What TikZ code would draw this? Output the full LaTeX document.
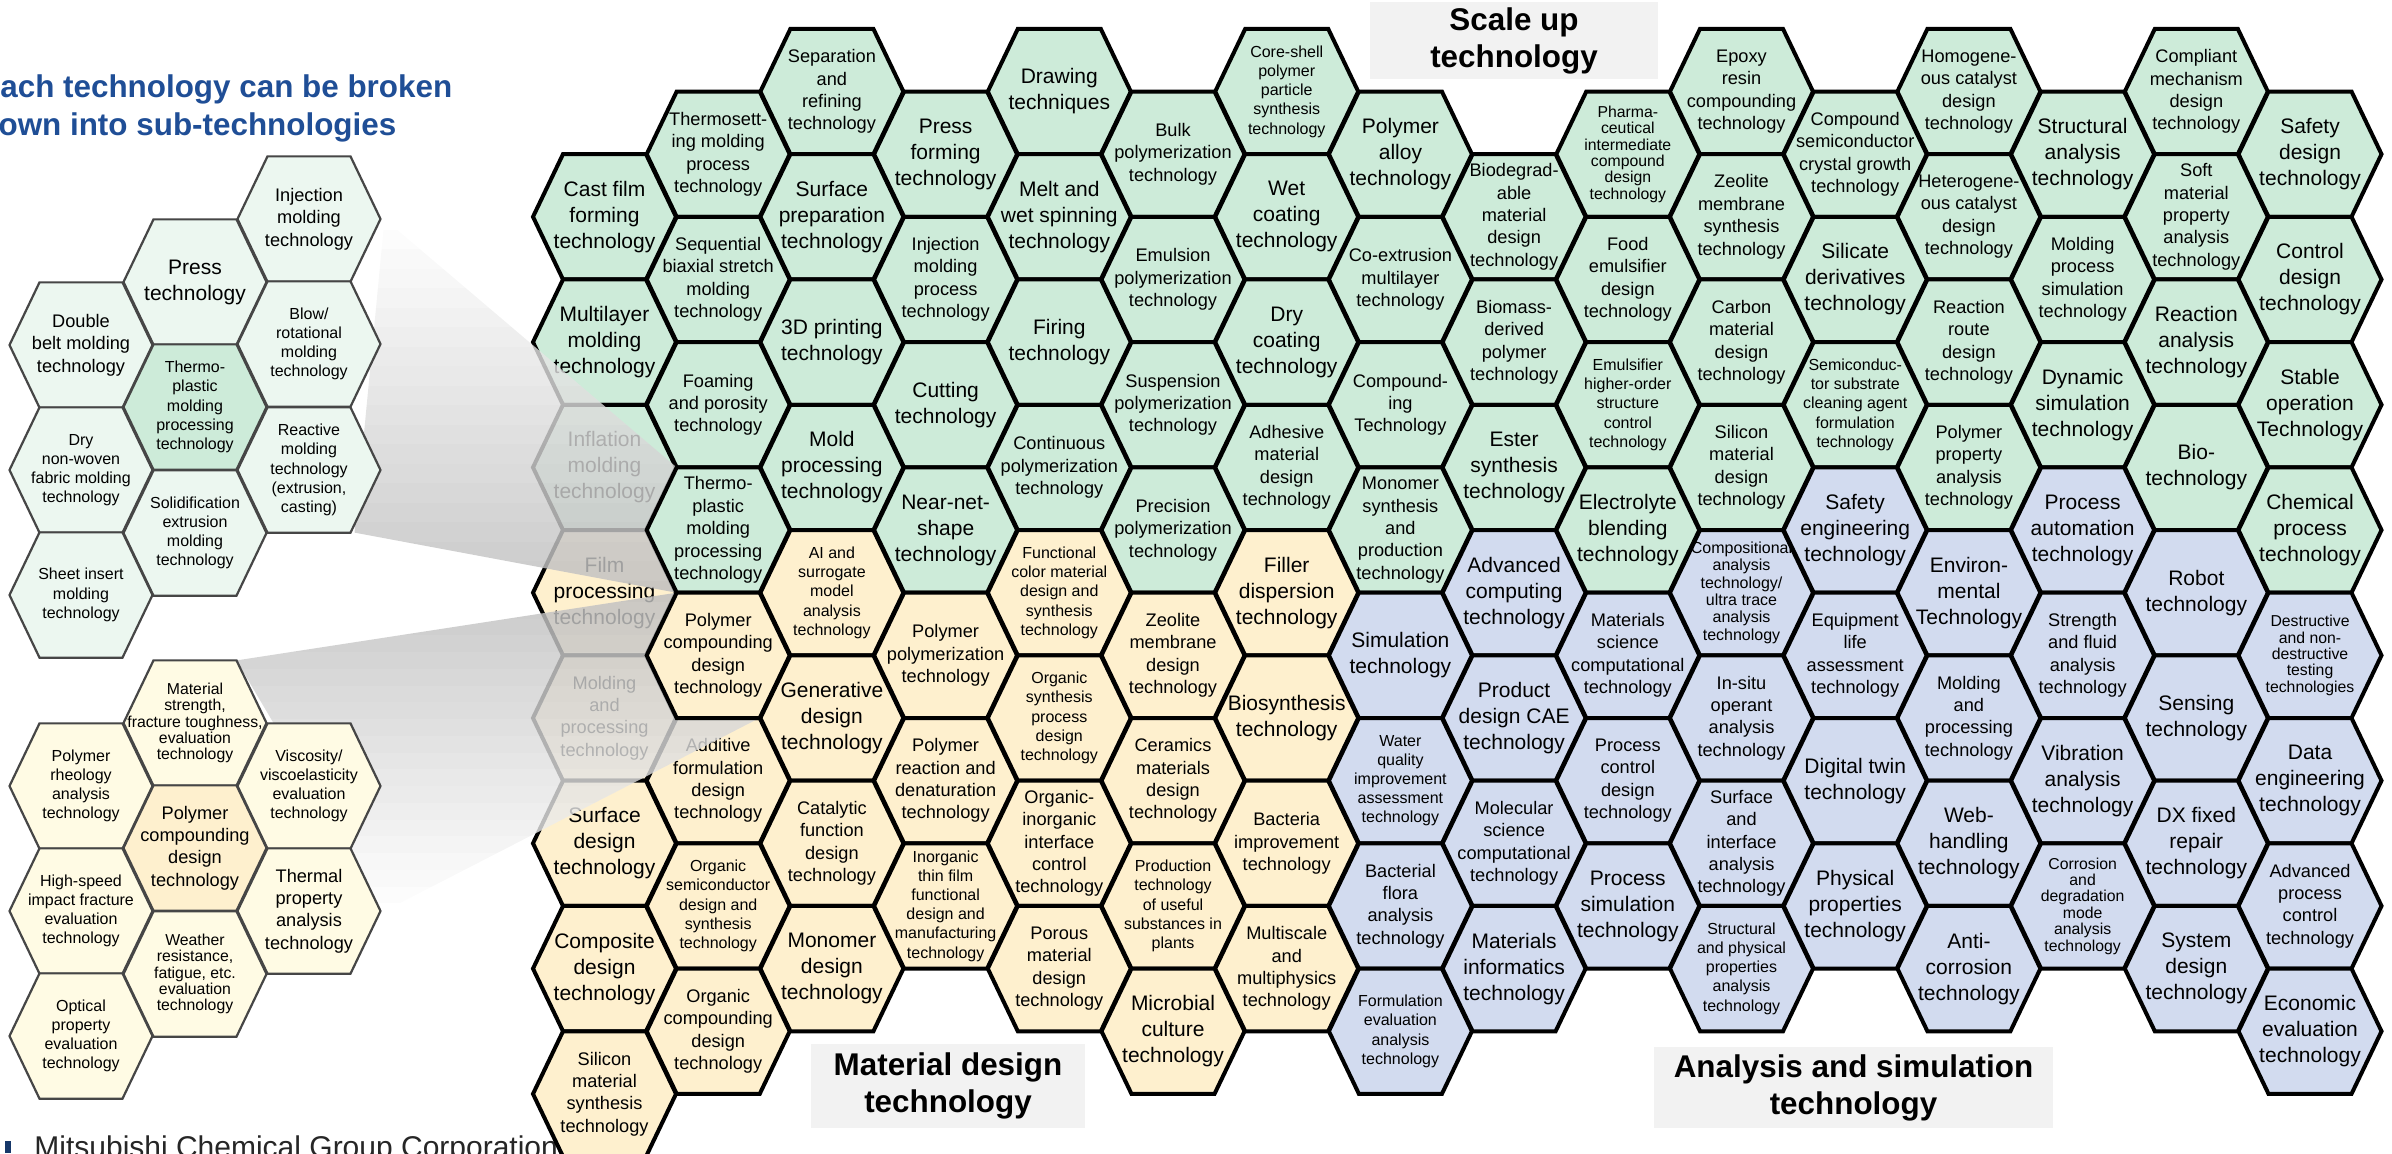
\documentclass[tikz,border=0pt]{standalone}
\usepackage{fontspec}
\setmainfont{Liberation Sans}
\definecolor{hexgreen}{RGB}{205,235,217}
\definecolor{hexyellow}{RGB}{254,240,206}
\definecolor{hexblue}{RGB}{210,219,239}
\definecolor{palegreen}{RGB}{236,247,240}
\definecolor{paleyellow}{RGB}{255,251,228}
\definecolor{panelline}{RGB}{70,70,70}
\definecolor{titleblue}{RGB}{31,78,150}
\definecolor{labelgray}{RGB}{242,242,242}

\pgfdeclarelayer{bottom}
\pgfdeclarelayer{cells}
\pgfsetlayers{bottom,cells,main}

% one cell of the main honeycomb: column, row, fill style, text style, text
% (the outline goes on the cells layer so every label stays on top)
\newcommand\cell[5]{%
  \pgfmathsetmacro\cx{604.5+(#1-1)*113.7}%
  \pgfmathsetmacro\cy{91.5+#2*125.3+62.65*(1-mod(#1,2))}%
  \begin{pgfonlayer}{cells}
  \draw[hexline,#3,shift={(\cx,\cy)}] (-71.5,0) -- (-41.5,-62.65) -- (41.5,-62.65)
     -- (71.5,0) -- (41.5,62.65) -- (-41.5,62.65) -- cycle;
  \end{pgfonlayer}
  \node[#4] (c#1r#2) at (\cx,\cy) {#5};}

% a highlighted cell of the main honeycomb, drawn on the top layer
\newcommand\topcell[5]{%
  \pgfmathsetmacro\cx{604.5+(#1-1)*113.7}%
  \pgfmathsetmacro\cy{91.5+#2*125.3+62.65*(1-mod(#1,2))}%
  \draw[hexline,#3,shift={(\cx,\cy)}] (-71.5,0) -- (-41.5,-62.65) -- (41.5,-62.65)
     -- (71.5,0) -- (41.5,62.65) -- (-41.5,62.65) -- cycle;
  \node[#4] (c#1r#2) at (\cx,\cy) {#5};}

% one cell of the side panels: x, y, cell style, text style, name, text
\newcommand\pcell[6]{%
  \draw[#3,shift={(#1,#2)}] (-71.5,0) -- (-41.5,-62.65) -- (41.5,-62.65)
     -- (71.5,0) -- (41.5,62.65) -- (-41.5,62.65) -- cycle;
  \node[#4] (#5) at (#1,#2) {#6};}

\tikzset{
  hexline/.style={draw=black, line width=2pt, line join=miter},
  G/.style={fill=hexgreen}, Y/.style={fill=hexyellow}, B/.style={fill=hexblue},
  txt/.style={align=center, inner sep=0pt, text=black},
  tL/.style={txt, font=\fontsize{10.5}{13}\selectfont},
  tM/.style={txt, font=\fontsize{9.1}{11.2}\selectfont},
  tS/.style={txt, font=\fontsize{8}{9.6}\selectfont},
  tT/.style={txt, font=\fontsize{7.9}{8.2}\selectfont},
  tU/.style={txt, font=\fontsize{8}{8.7}\selectfont},
  pG/.style={draw=panelline, line width=1.1pt, line join=miter, fill=palegreen},
  pY/.style={draw=panelline, line width=1.1pt, line join=miter, fill=paleyellow},
  pGh/.style={draw=panelline, line width=1.1pt, line join=miter, fill=hexgreen},
  pYh/.style={draw=panelline, line width=1.1pt, line join=miter, fill=hexyellow},
  catbox/.style={fill=labelgray},
  catlabel/.style={align=center, inner sep=0pt, font=\fontsize{15.7}{18.5}\selectfont\bfseries},
  haze/.style={fill=white, fill opacity=0.78},
}

\begin{document}
\begin{tikzpicture}[x=0.5pt,y=-0.5pt]
\clip (0,0) rectangle (2392,1153);
\begin{pgfonlayer}{bottom}
\fill[white] (0,0) rectangle (2392,1153);
\fill[titleblue!70!black] (5,1141) rectangle (11,1153);
\node[anchor=base west, inner sep=0pt, text=black!85, font=\fontsize{15}{18}\selectfont]
  (credit) at (34,1157) {Mitsubishi Chemical Group Corporation};
\end{pgfonlayer}

% ---------- column 1 ----------
\cell{1}{1}{G}{tL}{Cast film\\forming\\technology}
\cell{1}{2}{G}{tL}{Multilayer\\molding\\technology}
\cell{1}{3}{G}{tL}{Inflation\\molding\\technology}
\cell{1}{4}{Y}{tL}{Film\\processing\\technology}
\cell{1}{5}{Y}{tM}{Molding\\and\\processing\\technology}
\cell{1}{6}{Y}{tL}{Surface\\design\\technology}
\cell{1}{7}{Y}{tL}{Composite\\design\\technology}
\cell{1}{8}{Y}{tM}{Silicon\\material\\synthesis\\technology}
% ---------- column 2 ----------
\cell{2}{0}{G}{tM}{Thermosett-\\ing molding\\process\\technology}
\cell{2}{1}{G}{tM}{Sequential\\biaxial stretch\\molding\\technology}
\cell{2}{2}{G}{tM}{Foaming\\and porosity\\technology}
\cell{2}{5}{Y}{tM}{Additive\\formulation\\design\\technology}
\cell{2}{6}{Y}{tS}{Organic\\semiconductor\\design and\\synthesis\\technology}
\cell{2}{7}{Y}{tM}{Organic\\compounding\\design\\technology}
% ---------- column 3 ----------
\cell{3}{0}{G}{tM}{Separation\\and\\refining\\technology}
\cell{3}{1}{G}{tL}{Surface\\preparation\\technology}
\cell{3}{2}{G}{tL}{3D printing\\technology}
\cell{3}{3}{G}{tL}{Mold\\processing\\technology}
\cell{3}{4}{Y}{tS}{AI and\\surrogate\\model\\analysis\\technology}
\cell{3}{5}{Y}{tL}{Generative\\design\\technology}
\cell{3}{6}{Y}{tM}{Catalytic\\function\\design\\technology}
\cell{3}{7}{Y}{tL}{Monomer\\design\\technology}
% ---------- column 4 ----------
\cell{4}{0}{G}{tL}{Press\\forming\\technology}
\cell{4}{1}{G}{tM}{Injection\\molding\\process\\technology}
\cell{4}{2}{G}{tL}{Cutting\\technology}
\cell{4}{3}{G}{tL}{Near-net-\\shape\\technology}
\cell{4}{4}{Y}{tM}{Polymer\\polymerization\\technology}
\cell{4}{5}{Y}{tM}{Polymer\\reaction and\\denaturation\\technology}
\cell{4}{6}{Y}{tS}{Inorganic\\thin film\\functional\\design and\\manufacturing\\technology}
% ---------- column 5 ----------
\cell{5}{0}{G}{tL}{Drawing\\techniques}
\cell{5}{1}{G}{tL}{Melt and\\wet spinning\\technology}
\cell{5}{2}{G}{tL}{Firing\\technology}
\cell{5}{3}{G}{tM}{Continuous\\polymerization\\technology}
\cell{5}{4}{Y}{tS}{Functional\\color material\\design and\\synthesis\\technology}
\cell{5}{5}{Y}{tS}{Organic\\synthesis\\process\\design\\technology}
\cell{5}{6}{Y}{tM}{Organic-\\inorganic\\interface\\control\\technology}
\cell{5}{7}{Y}{tM}{Porous\\material\\design\\technology}
% ---------- column 6 ----------
\cell{6}{0}{G}{tM}{Bulk\\polymerization\\technology}
\cell{6}{1}{G}{tM}{Emulsion\\polymerization\\technology}
\cell{6}{2}{G}{tM}{Suspension\\polymerization\\technology}
\cell{6}{3}{G}{tM}{Precision\\polymerization\\technology}
\cell{6}{4}{Y}{tM}{Zeolite\\membrane\\design\\technology}
\cell{6}{5}{Y}{tM}{Ceramics\\materials\\design\\technology}
\cell{6}{6}{Y}{tS}{Production\\technology\\of useful\\substances in\\plants}
\cell{6}{7}{Y}{tL}{Microbial\\culture\\technology}
% ---------- column 7 ----------
\cell{7}{0}{G}{tS}{Core-shell\\polymer\\particle\\synthesis\\technology}
\cell{7}{1}{G}{tL}{Wet\\coating\\technology}
\cell{7}{2}{G}{tL}{Dry\\coating\\technology}
\cell{7}{3}{G}{tM}{Adhesive\\material\\design\\technology}
\cell{7}{4}{Y}{tL}{Filler\\dispersion\\technology}
\cell{7}{5}{Y}{tL}{Biosynthesis\\technology}
\cell{7}{6}{Y}{tM}{Bacteria\\improvement\\technology}
\cell{7}{7}{Y}{tM}{Multiscale\\and\\multiphysics\\technology}
% ---------- column 8 ----------
\cell{8}{0}{G}{tL}{Polymer\\alloy\\technology}
\cell{8}{1}{G}{tM}{Co-extrusion\\multilayer\\technology}
\cell{8}{2}{G}{tM}{Compound-\\ing\\Technology}
\cell{8}{3}{G}{tM}{Monomer\\synthesis\\and\\production\\technology}
\cell{8}{4}{B}{tL}{Simulation\\technology}
\cell{8}{5}{B}{tS}{Water\\quality\\improvement\\assessment\\technology}
\cell{8}{6}{B}{tM}{Bacterial\\flora\\analysis\\technology}
\cell{8}{7}{B}{tS}{Formulation\\evaluation\\analysis\\technology}
% ---------- column 9 ----------
\cell{9}{1}{G}{tM}{Biodegrad-\\able\\material\\design\\technology}
\cell{9}{2}{G}{tM}{Biomass-\\derived\\polymer\\technology}
\cell{9}{3}{G}{tL}{Ester\\synthesis\\technology}
\cell{9}{4}{B}{tL}{Advanced\\computing\\technology}
\cell{9}{5}{B}{tL}{Product\\design CAE\\technology}
\cell{9}{6}{B}{tM}{Molecular\\science\\computational\\technology}
\cell{9}{7}{B}{tL}{Materials\\informatics\\technology}
% ---------- column 10 ----------
\cell{10}{0}{G}{tT}{Pharma-\\ceutical\\intermediate\\compound\\design\\technology}
\cell{10}{1}{G}{tM}{Food\\emulsifier\\design\\technology}
\cell{10}{2}{G}{tS}{Emulsifier\\higher-order\\structure\\control\\technology}
\cell{10}{3}{G}{tL}{Electrolyte\\blending\\technology}
\cell{10}{4}{B}{tM}{Materials\\science\\computational\\technology}
\cell{10}{5}{B}{tM}{Process\\control\\design\\technology}
\cell{10}{6}{B}{tL}{Process\\simulation\\technology}
% ---------- column 11 ----------
\cell{11}{0}{G}{tM}{Epoxy\\resin\\compounding\\technology}
\cell{11}{1}{G}{tM}{Zeolite\\membrane\\synthesis\\technology}
\cell{11}{2}{G}{tM}{Carbon\\material\\design\\technology}
\cell{11}{3}{G}{tM}{Silicon\\material\\design\\technology}
\cell{11}{4}{B}{tU}{Compositional\\analysis\\technology/\\ultra trace\\analysis\\technology}
\cell{11}{5}{B}{tM}{In-situ\\operant\\analysis\\technology}
\cell{11}{6}{B}{tM}{Surface\\and\\interface\\analysis\\technology}
\cell{11}{7}{B}{tS}{Structural\\and physical\\properties\\analysis\\technology}
% ---------- column 12 ----------
\cell{12}{0}{G}{tM}{Compound\\semiconductor\\crystal growth\\technology}
\cell{12}{1}{G}{tL}{Silicate\\derivatives\\technology}
\cell{12}{2}{G}{tS}{Semiconduc-\\tor substrate\\cleaning agent\\formulation\\technology}
\cell{12}{3}{B}{tL}{Safety\\engineering\\technology}
\cell{12}{4}{B}{tM}{Equipment\\life\\assessment\\technology}
\cell{12}{5}{B}{tL}{Digital twin\\technology}
\cell{12}{6}{B}{tL}{Physical\\properties\\technology}
% ---------- column 13 ----------
\cell{13}{0}{G}{tM}{Homogene-\\ous catalyst\\design\\technology}
\cell{13}{1}{G}{tM}{Heterogene-\\ous catalyst\\design\\technology}
\cell{13}{2}{G}{tM}{Reaction\\route\\design\\technology}
\cell{13}{3}{G}{tM}{Polymer\\property\\analysis\\technology}
\cell{13}{4}{B}{tL}{Environ-\\mental\\Technology}
\cell{13}{5}{B}{tM}{Molding\\and\\processing\\technology}
\cell{13}{6}{B}{tL}{Web-\\handling\\technology}
\cell{13}{7}{B}{tL}{Anti-\\corrosion\\technology}
% ---------- column 14 ----------
\cell{14}{0}{G}{tL}{Structural\\analysis\\technology}
\cell{14}{1}{G}{tM}{Molding\\process\\simulation\\technology}
\cell{14}{2}{G}{tL}{Dynamic\\simulation\\technology}
\cell{14}{3}{B}{tL}{Process\\automation\\technology}
\cell{14}{4}{B}{tM}{Strength\\and fluid\\analysis\\technology}
\cell{14}{5}{B}{tL}{Vibration\\analysis\\technology}
\cell{14}{6}{B}{tT}{Corrosion\\and\\degradation\\mode\\analysis\\technology}
% ---------- column 15 ----------
\cell{15}{0}{G}{tM}{Compliant\\mechanism\\design\\technology}
\cell{15}{1}{G}{tM}{Soft\\material\\property\\analysis\\technology}
\cell{15}{2}{G}{tL}{Reaction\\analysis\\technology}
\cell{15}{3}{G}{tL}{Bio-\\technology}
\cell{15}{4}{B}{tL}{Robot\\technology}
\cell{15}{5}{B}{tL}{Sensing\\technology}
\cell{15}{6}{B}{tL}{DX fixed\\repair\\technology}
\cell{15}{7}{B}{tL}{System\\design\\technology}
% ---------- column 16 ----------
\cell{16}{0}{G}{tL}{Safety\\design\\technology}
\cell{16}{1}{G}{tL}{Control\\design\\technology}
\cell{16}{2}{G}{tL}{Stable\\operation\\Technology}
\cell{16}{3}{G}{tL}{Chemical\\process\\technology}
\cell{16}{4}{B}{tT}{Destructive\\and non-\\destructive\\testing\\technologies}
\cell{16}{5}{B}{tL}{Data\\engineering\\technology}
\cell{16}{6}{B}{tM}{Advanced\\process\\control\\technology}
\cell{16}{7}{B}{tL}{Economic\\evaluation\\technology}

% ---------- zoom funnels toward the side panels ----------
% upper funnel: white haze, greying towards its lower edge
\begin{scope}
  \clip (384.5,219) -- (676.5,467.3) -- (676.5,592.7) -- (354.5,532.6) -- cycle;
  \fill[haze] (340,210) rectangle (690,600);
  \foreach \i in {0,...,19} {
    \pgfmathsetmacro\op{0.011*\i}
    \fill[black, fill opacity=\op] (340,{210+\i*19.5}) rectangle (690,{210+(\i+1)*19.5});
  }
\end{scope}
% lower funnel: grey along its upper edge, fading to white
\begin{scope}
  \clip (236.5,660.4) -- (676.5,592.7) -- (759.5,718) -- (384.5,911) -- cycle;
  \fill[haze] (230,585) rectangle (770,920);
  \foreach \i in {0,...,19} {
    \pgfmathsetmacro\op{0.011*(19-\i)}
    \fill[black, fill opacity=\op] (230,{585+\i*16.75}) rectangle (770,{585+(\i+1)*16.75});
  }
\end{scope}

% highlighted cells drawn above the funnels
\topcell{2}{3}{G}{tM}{Thermo-\\plastic\\molding\\processing\\technology}
\topcell{2}{4}{Y}{tM}{Polymer\\compounding\\design\\technology}

% ---------- side panel: molding sub-technologies ----------
\pcell{309}{219}{pG}{tM}{pInj}{Injection\\molding\\technology}
\pcell{195}{282}{pG}{tL}{pPress}{Press\\technology}
\pcell{309}{344}{pG}{tS}{pBlow}{Blow/\\rotational\\molding\\technology}
\pcell{81}{345}{pG}{tM}{pDouble}{Double\\belt molding\\technology}
\pcell{195}{407}{pGh}{tS}{pThermo}{Thermo-\\plastic\\molding\\processing\\technology}
\pcell{81}{470}{pG}{tS}{pDry}{Dry\\non-woven\\fabric molding\\technology}
\pcell{309}{470}{pG}{tS}{pReact}{Reactive\\molding\\technology\\(extrusion,\\casting)}
\pcell{195}{533}{pG}{tS}{pSolid}{Solidification\\extrusion\\molding\\technology}
\pcell{81}{595}{pG}{tS}{pSheet}{Sheet insert\\molding\\technology}

% ---------- side panel: compounding sub-technologies ----------
\pcell{195}{723}{pY}{tT}{pMat}{Material\\strength,\\fracture toughness,\\evaluation\\technology}
\pcell{81}{786}{pY}{tS}{pRheo}{Polymer\\rheology\\analysis\\technology}
\pcell{309}{786}{pY}{tS}{pVisc}{Viscosity/\\viscoelasticity\\evaluation\\technology}
\pcell{195}{848}{pYh}{tM}{pComp}{Polymer\\compounding\\design\\technology}
\pcell{81}{911}{pY}{tS}{pImpact}{High-speed\\impact fracture\\evaluation\\technology}
\pcell{309}{911}{pY}{tM}{pTherm}{Thermal\\property\\analysis\\technology}
\pcell{195}{974}{pY}{tT}{pWeather}{Weather\\resistance,\\fatigue, etc.\\evaluation\\technology}
\pcell{81}{1036}{pY}{tS}{pOpt}{Optical\\property\\evaluation\\technology}

% ---------- category labels ----------
\fill[catbox] (1370,2) rectangle (1658,79);
\node[catlabel] (scaleup) at (1514,41) {Scale up\\technology};
\fill[catbox] (811,1044) rectangle (1085,1128);
\node[catlabel] (matdesign) at (948,1086) {Material design\\technology};
\fill[catbox] (1654,1047) rectangle (2053,1128);
\node[catlabel] (analysis) at (1853.5,1087.5) {Analysis and simulation\\technology};

% ---------- heading ----------
\node[anchor=base west, inner sep=0pt, text=titleblue, font=\fontsize{15.7}{18.5}\selectfont\bfseries]
  (head1) at (-21,97) {Each technology can be broken};
\node[anchor=base west, inner sep=0pt, text=titleblue, font=\fontsize{15.7}{18.5}\selectfont\bfseries]
  (head2) at (-21,135) {down into sub-technologies};
\end{tikzpicture}
\end{document}
